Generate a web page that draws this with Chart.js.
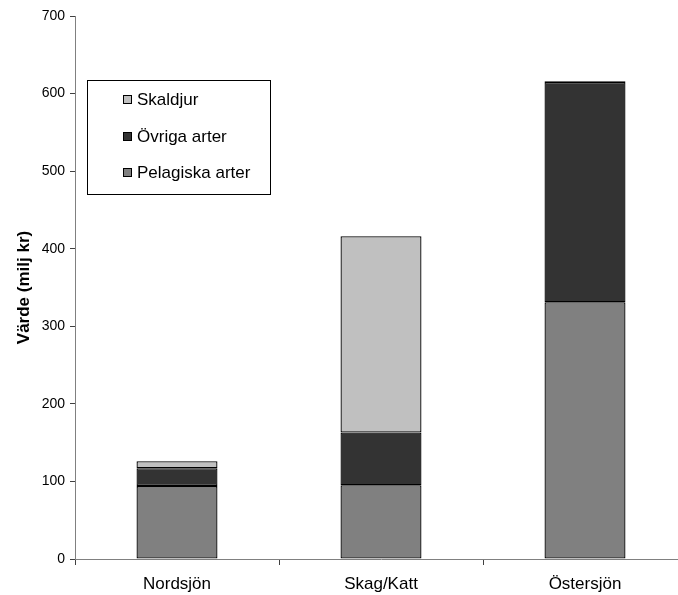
<!DOCTYPE html>
<html>
<head>
<meta charset="utf-8">
<script src="https://cdn.jsdelivr.net/npm/chart.js@4/dist/chart.umd.min.js"></script>
<style>
  html, body { margin: 0; padding: 0; background: #fff; overflow: hidden; }
  #wrap { width: 690px; height: 595px; }
</style>
</head>
<body>
<div id="wrap"><canvas id="chart"></canvas></div>
<script>
// --- data ---
const categories = ['Nordsjön', 'Skag/Katt', 'Östersjön'];
const pelagiska = [94, 95, 331];
const ovriga = [23, 68, 284];
const skaldjur = [9, 253, 1];
const yTicks = [0, 100, 200, 300, 400, 500, 600, 700];

const FONT = '"Liberation Sans", Arial, sans-serif';

// legend drawn as a framed box inside the plot, top item = top of stack
const boxLegend = {
  id: 'boxLegend',
  afterDraw(chart) {
    const ctx = chart.ctx;
    const x = 87, y = 80, w = 183, h = 114;
    ctx.save();
    ctx.fillStyle = '#fff';
    ctx.fillRect(x, y, w, h);
    ctx.strokeStyle = '#000';
    ctx.lineWidth = 1;
    ctx.strokeRect(x + 0.5, y + 0.5, w, h);
    const rows = [99, 136, 172];
    const items = chart.data.datasets.slice().reverse();
    ctx.font = '17px ' + FONT;
    ctx.textBaseline = 'middle';
    items.forEach((ds, i) => {
      const cy = rows[i];
      ctx.fillStyle = ds.backgroundColor;
      ctx.fillRect(123, cy - 4, 9, 9);
      ctx.strokeStyle = '#000';
      ctx.strokeRect(123.5, cy - 3.5, 8, 8);
      ctx.fillStyle = '#000';
      ctx.fillText(ds.label, 137, cy + 1);
    });
    ctx.restore();
  }
};

new Chart(document.getElementById('chart'), {
  type: 'bar',
  data: {
    labels: categories,
    datasets: [
      { label: 'Pelagiska arter', data: pelagiska, backgroundColor: '#808080' },
      { label: 'Övriga arter', data: ovriga, backgroundColor: '#333333' },
      { label: 'Skaldjur', data: skaldjur, backgroundColor: '#c0c0c0' }
    ].map(d => Object.assign(d, {
      borderColor: '#000', borderWidth: 1.3, borderSkipped: false,
      barPercentage: 0.397, categoryPercentage: 1.0
    }))
  },
  options: {
    responsive: true,
    maintainAspectRatio: false,
    animation: false,
    layout: { padding: { top: 16, right: 3, bottom: 0, left: 0 } },
    plugins: { legend: { display: false }, tooltip: { enabled: false } },
    scales: {
      x: {
        stacked: true,
        afterFit(s) { s.height = 36; },
        border: { color: '#808080', width: 1 },
        grid: { offset: true, drawOnChartArea: false, tickLength: 6, color: '#404040' },
        ticks: { color: '#000', font: { family: FONT, size: 17 }, padding: 9 }
      },
      y: {
        stacked: true,
        min: 0,
        max: 700,
        afterFit(s) { s.width = 75; },
        afterBuildTicks(s) { s.ticks = yTicks.map(v => ({ value: v })); },
        border: { color: '#808080', width: 1 },
        grid: { drawOnChartArea: false, tickLength: 5, color: '#404040' },
        ticks: { color: '#000', font: { family: FONT, size: 14 }, padding: 5 },
        title: {
          display: true, text: 'Värde (milj kr)', color: '#000',
          font: { family: FONT, size: 17, weight: 'bold' }, padding: { top: 14, bottom: 0 }
        }
      }
    }
  },
  plugins: [boxLegend]
});
</script>
</body>
</html>
